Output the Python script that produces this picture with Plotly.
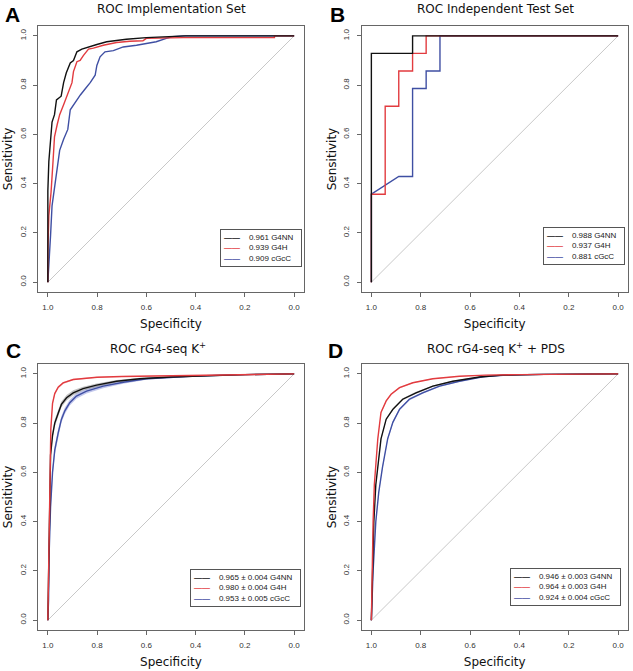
import plotly.graph_objects as go

# ---------------- data ----------------
# Panel A: ROC Implementation Set
a_g4nn_spec = [1.0, 1.0, 0.996, 0.989, 0.983, 0.973, 0.965, 0.946, 0.936, 0.925, 0.909, 0.896, 0.882, 0.862, 0.835, 0.801, 0.761, 0.681, 0.6, 0.44, 0.0]
a_g4nn_sens = [0.0, 0.37, 0.49, 0.60, 0.65, 0.68, 0.74, 0.755, 0.81, 0.85, 0.89, 0.90, 0.935, 0.946, 0.955, 0.965, 0.976, 0.986, 0.993, 1.0, 1.0]
a_g4h_spec = [1.0, 1.0, 0.996, 0.992, 0.987, 0.979, 0.973, 0.962, 0.952, 0.936, 0.922, 0.912, 0.902, 0.896, 0.882, 0.869, 0.856, 0.835, 0.815, 0.775, 0.721, 0.667, 0.614, 0.6, 0.45, 0.08, 0.08, 0.0]
a_g4h_sens = [0.0, 0.12, 0.27, 0.31, 0.365, 0.49, 0.59, 0.64, 0.68, 0.72, 0.76, 0.79, 0.81, 0.855, 0.895, 0.90, 0.92, 0.946, 0.95, 0.962, 0.973, 0.978, 0.98, 0.99, 0.993, 0.993, 1.0, 1.0]
a_cgcc_spec = [1.0, 0.996, 0.989, 0.983, 0.973, 0.962, 0.952, 0.936, 0.919, 0.909, 0.889, 0.868, 0.848, 0.828, 0.808, 0.801, 0.788, 0.768, 0.734, 0.694, 0.640, 0.6, 0.560, 0.519, 0.493, 0.45, 0.0]
a_cgcc_sens = [0.0, 0.095, 0.19, 0.31, 0.38, 0.46, 0.535, 0.58, 0.62, 0.70, 0.73, 0.76, 0.785, 0.81, 0.84, 0.88, 0.915, 0.935, 0.94, 0.955, 0.962, 0.97, 0.976, 0.99, 0.997, 1.0, 1.0]

# Panel B: ROC Independent Test Set
b_g4nn_spec = [1.0, 1.0, 0.833, 0.833, 0.0]
b_g4nn_sens = [0.0, 0.929, 0.929, 1.0, 1.0]
b_g4h_spec = [1.0, 1.0, 0.944, 0.944, 0.889, 0.889, 0.833, 0.833, 0.778, 0.778, 0.0]
b_g4h_sens = [0.0, 0.357, 0.357, 0.714, 0.714, 0.857, 0.857, 0.929, 0.929, 1.0, 1.0]
b_cgcc_spec = [1.0, 1.0, 0.889, 0.833, 0.833, 0.778, 0.778, 0.722, 0.722, 0.0]
b_cgcc_sens = [0.0, 0.357, 0.429, 0.429, 0.786, 0.786, 0.857, 0.857, 1.0, 1.0]

# Panel C: ROC rG4-seq K+
c_g4nn_spec = [1.0, 0.997, 0.995, 0.989, 0.981, 0.972, 0.958, 0.945, 0.924, 0.897, 0.857, 0.802, 0.721, 0.627, 0.5, 0.4, 0.2, 0.0]
c_g4nn_sens = [0.0, 0.19, 0.46, 0.67, 0.75, 0.80, 0.84, 0.876, 0.903, 0.923, 0.94, 0.954, 0.97, 0.98, 0.987, 0.991, 0.997, 1.0]
c_g4nn_ci = [0.0, 0.01, 0.015, 0.015, 0.015, 0.015, 0.013, 0.012, 0.011, 0.01, 0.008, 0.007, 0.005, 0.004, 0.003, 0.002, 0.001, 0.0]
c_g4h_spec = [1.0, 0.998, 0.995, 0.992, 0.988, 0.981, 0.972, 0.958, 0.938, 0.897, 0.80, 0.7, 0.6, 0.4, 0.2, 0.0]
c_g4h_sens = [0.0, 0.15, 0.33, 0.6, 0.775, 0.88, 0.92, 0.946, 0.963, 0.977, 0.986, 0.989, 0.991, 0.995, 0.998, 1.0]
c_g4h_ci = [0.0, 0.01, 0.01, 0.01, 0.008, 0.006, 0.005, 0.005, 0.004, 0.003, 0.002, 0.002, 0.001, 0.001, 0.0005, 0.0]
c_cgcc_spec = [1.0, 0.997, 0.995, 0.989, 0.981, 0.972, 0.958, 0.945, 0.931, 0.911, 0.884, 0.843, 0.775, 0.694, 0.6, 0.5, 0.4, 0.2, 0.0]
c_cgcc_sens = [0.0, 0.085, 0.26, 0.46, 0.6, 0.69, 0.76, 0.815, 0.85, 0.883, 0.91, 0.93, 0.95, 0.966, 0.98, 0.986, 0.991, 0.997, 1.0]
c_cgcc_ci = [0.0, 0.01, 0.02, 0.02, 0.02, 0.018, 0.016, 0.014, 0.013, 0.012, 0.011, 0.01, 0.008, 0.006, 0.004, 0.003, 0.002, 0.001, 0.0]

# Panel D: ROC rG4-seq K+ + PDS
d_g4nn_spec = [1.0, 0.996, 0.99, 0.982, 0.972, 0.961, 0.94, 0.913, 0.873, 0.819, 0.751, 0.67, 0.562, 0.467, 0.3, 0.0]
d_g4nn_sens = [0.0, 0.2, 0.4, 0.55, 0.65, 0.736, 0.816, 0.856, 0.897, 0.923, 0.95, 0.97, 0.987, 0.995, 0.998, 1.0]
d_g4nn_ci = [0.0, 0.006, 0.006, 0.006, 0.006, 0.006, 0.005, 0.005, 0.004, 0.004, 0.003, 0.002, 0.002, 0.001, 0.001, 0.0]
d_g4h_spec = [1.0, 0.997, 0.993, 0.988, 0.982, 0.974, 0.961, 0.94, 0.92, 0.886, 0.832, 0.751, 0.643, 0.535, 0.4, 0.2, 0.0]
d_g4h_sens = [0.0, 0.2, 0.4, 0.55, 0.65, 0.736, 0.843, 0.89, 0.917, 0.944, 0.964, 0.98, 0.99, 0.995, 0.997, 0.999, 1.0]
d_g4h_ci = [0.0, 0.005, 0.005, 0.005, 0.005, 0.005, 0.004, 0.004, 0.003, 0.003, 0.002, 0.002, 0.001, 0.001, 0.001, 0.0, 0.0]
d_cgcc_spec = [1.0, 0.993, 0.982, 0.97, 0.955, 0.934, 0.913, 0.886, 0.846, 0.792, 0.724, 0.643, 0.548, 0.453, 0.3, 0.0]
d_cgcc_sens = [0.0, 0.2, 0.4, 0.52, 0.62, 0.736, 0.803, 0.856, 0.897, 0.923, 0.95, 0.97, 0.988, 0.995, 0.998, 1.0]
d_cgcc_ci = [0.0, 0.007, 0.007, 0.007, 0.007, 0.007, 0.006, 0.005, 0.005, 0.004, 0.003, 0.002, 0.002, 0.001, 0.001, 0.0]

diag_spec = [1.0, 0.0]
diag_sens = [0.0, 1.0]

tick_vals = [0.0, 0.2, 0.4, 0.6, 0.8, 1.0]
tick_text = ["0.0", "0.2", "0.4", "0.6", "0.8", "1.0"]

titles = ["ROC Implementation Set", "ROC Independent Test Set",
          "ROC rG4-seq K<sup>+</sup>", "ROC rG4-seq K<sup>+</sup> + PDS"]
letters = ["A", "B", "C", "D"]
legend_labels = [
    ["0.961 G4NN", "0.939 G4H", "0.909 cGcC"],
    ["0.988 G4NN", "0.937 G4H", "0.881 cGcC"],
    ["0.965 ± 0.004 G4NN", "0.980 ± 0.004 G4H", "0.953 ± 0.005 cGcC"],
    ["0.946 ± 0.003 G4NN", "0.964 ± 0.003 G4H", "0.924 ± 0.004 cGcC"],
]

# ---------------- styling ----------------
BLACK = "#111111"
RED = "#e23b3f"
BLUE = "#3f4fa3"
BAND = {BLACK: "rgba(120,120,120,0.45)", RED: "rgba(226,59,63,0.30)", BLUE: "rgba(80,95,200,0.35)"}
W, H = 633, 671


def px_x(v):
    return v / W


def px_y(v):
    return 1 - v / H


# panel boxes in window pixels: (left, right, top, bottom)
boxes = [(38, 304, 26, 292), (361.5, 628, 26, 292), (38, 304, 364, 630), (361.5, 628, 364, 630)]
title_pos = [(171, 9), (495, 9), (158, 348), (496, 348)]
letter_pos = [(12, 14), (337, 14), (13, 350), (335, 351)]
legend_pos = [(302, 267), (625, 265), (301, 607), (621, 606)]

panels = [
    dict(lines=[(a_cgcc_spec, a_cgcc_sens, None, BLUE), (a_g4h_spec, a_g4h_sens, None, RED), (a_g4nn_spec, a_g4nn_sens, None, BLACK)]),
    dict(lines=[(b_cgcc_spec, b_cgcc_sens, None, BLUE), (b_g4h_spec, b_g4h_sens, None, RED), (b_g4nn_spec, b_g4nn_sens, None, BLACK)]),
    dict(lines=[(c_cgcc_spec, c_cgcc_sens, c_cgcc_ci, BLUE), (c_g4nn_spec, c_g4nn_sens, c_g4nn_ci, BLACK), (c_g4h_spec, c_g4h_sens, c_g4h_ci, RED)]),
    dict(lines=[(d_cgcc_spec, d_cgcc_sens, d_cgcc_ci, BLUE), (d_g4nn_spec, d_g4nn_sens, d_g4nn_ci, BLACK), (d_g4h_spec, d_g4h_sens, d_g4h_ci, RED)]),
]

fig = go.Figure()
layout = dict(width=W, height=H, margin=dict(l=0, r=0, t=0, b=0),
              paper_bgcolor="white", plot_bgcolor="white", showlegend=False)
annotations = []

for i, p in enumerate(panels):
    k = "" if i == 0 else str(i + 1)
    xa, ya = "x" + k, "y" + k
    l, r, t, b = boxes[i]
    axis_common = dict(showgrid=False, zeroline=False, showline=True, mirror=True,
                       linecolor="#666666", linewidth=1, ticks="outside", ticklen=4,
                       tickcolor="#666666", tickvals=tick_vals, ticktext=tick_text,
                       tickfont=dict(family="Liberation Sans, Arial", size=8, color="#333333"))
    layout["xaxis" + k] = dict(axis_common, domain=[px_x(l), px_x(r)], range=[1.04, -0.04],
                               anchor=ya, ticklabelstandoff=3,
                               title=dict(text="Specificity", standoff=9,
                                          font=dict(family="DejaVu Sans", size=12, color="#111111")))
    layout["yaxis" + k] = dict(axis_common, domain=[px_y(b), px_y(t)], range=[-0.04, 1.04],
                               anchor=xa, tickangle=-90, ticklabelstandoff=4,
                               title=dict(text="Sensitivity", standoff=3,
                                          font=dict(family="DejaVu Sans", size=12, color="#111111")))
    # diagonal reference
    fig.add_trace(go.Scatter(x=diag_spec, y=diag_sens, mode="lines", xaxis=xa, yaxis=ya,
                             line=dict(color="#c8c8c8", width=1), hoverinfo="skip"))
    # confidence bands
    for spec, sens, ci, col in p["lines"]:
        if ci is None:
            continue
        up = [min(1.0, s + c) for s, c in zip(sens, ci)]
        lo = [max(0.0, s - c) for s, c in zip(sens, ci)]
        fig.add_trace(go.Scatter(x=list(spec) + list(spec)[::-1], y=up + lo[::-1],
                                 mode="lines", fill="toself", fillcolor=BAND[col],
                                 line=dict(width=0), xaxis=xa, yaxis=ya, hoverinfo="skip"))
    for spec, sens, ci, col in p["lines"]:
        fig.add_trace(go.Scatter(x=spec, y=sens, mode="lines", xaxis=xa, yaxis=ya,
                                 line=dict(color=col, width=1.4)))

    tx, ty = title_pos[i]
    annotations.append(dict(text=titles[i], x=px_x(tx), y=px_y(ty), xref="paper", yref="paper",
                            xanchor="center", yanchor="middle", showarrow=False,
                            font=dict(family="DejaVu Sans", size=12, color="#111111")))
    lx, ly = letter_pos[i]
    annotations.append(dict(text="<b>" + letters[i] + "</b>", x=px_x(lx), y=px_y(ly),
                            xref="paper", yref="paper", xanchor="center", yanchor="middle",
                            showarrow=False,
                            font=dict(family="Liberation Sans, Arial", size=21, color="#000000")))
    # legend box
    rows = []
    for lab, col in zip(legend_labels[i], [BLACK, RED, BLUE]):
        rows.append("<span style='color:%s'><b>——</b></span>    %s  " % (col, lab))
    gx, gy = legend_pos[i]
    annotations.append(dict(text="<br>".join(rows), x=px_x(gx), y=px_y(gy), xref="paper",
                            yref="paper", xanchor="right", yanchor="bottom", align="left",
                            showarrow=False, bgcolor="white", bordercolor="#555555",
                            borderwidth=1, borderpad=3,
                            font=dict(family="Liberation Sans, Arial", size=8, color="#222222")))

layout["annotations"] = annotations
fig.update_layout(**layout)
fig.write_html("out.html", config={"displayModeBar": False},
               post_script="document.body.style.margin='0';document.body.style.padding='0';"
                           "document.body.style.overflow='hidden';")
